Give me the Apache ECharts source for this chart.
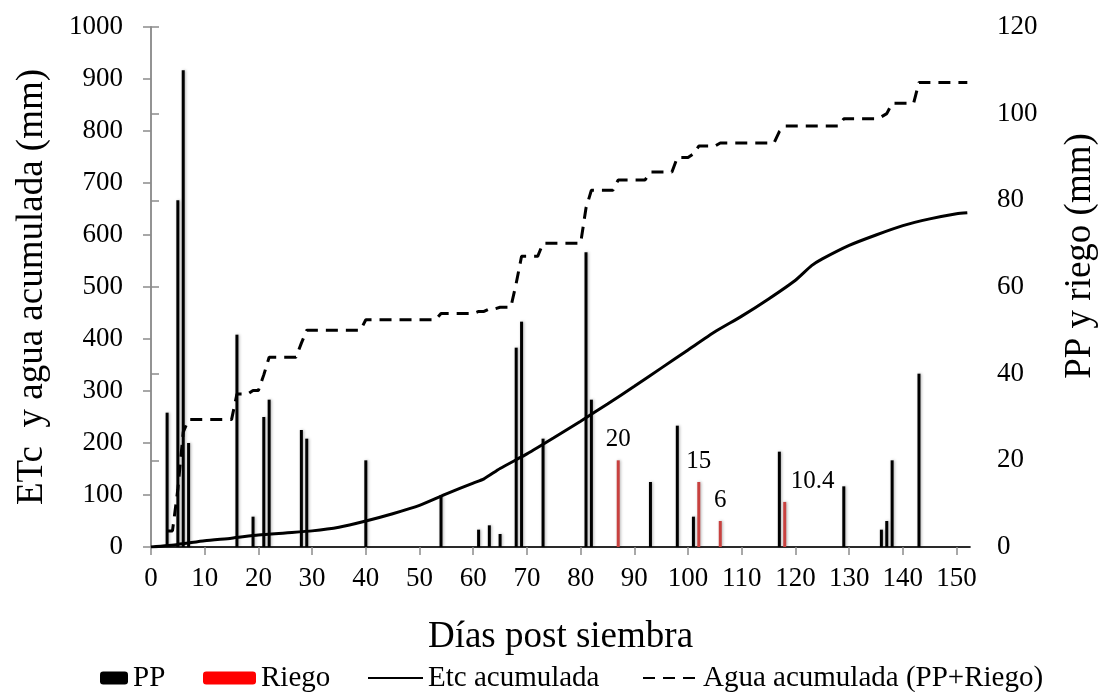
<!DOCTYPE html>
<html>
<head>
<meta charset="utf-8">
<title>ETc y agua acumulada</title>
<script src="https://cdn.jsdelivr.net/npm/echarts@6/dist/echarts.min.js"></script>
<style>
  html, body { margin: 0; padding: 0; background: #fff; }
  #chart { width: 1107px; height: 692px; }
</style>
</head>
<body>
<div id="chart"></div>
<script>
// Precipitación diaria (mm) por día post siembra
const ppDias    = [3, 5, 6, 7, 16, 19, 21, 22, 28, 29, 40, 54, 61, 63, 65, 68, 69, 73, 81, 82, 93, 98, 101, 117, 129, 136, 137, 138, 143];
const ppValores = [31, 80, 110, 24, 49, 7, 30, 34, 27, 25, 20, 12, 4, 5, 3, 46, 52, 25, 68, 34, 15, 28, 7, 22, 14, 4, 6, 20, 40];

// Riegos aplicados (mm)
const riegoDias    = [87, 102, 106, 118];
const riegoValores = [20, 15, 6, 10.4];

// ETc acumulada (mm)
const etcDias    = [0, 5, 10, 15, 20, 25, 30, 35, 40, 45, 50, 55, 60, 62, 65, 70, 75, 80, 85, 90, 95, 100, 105, 110, 115, 120, 123, 125, 130, 135, 140, 145, 150, 152];
const etcValores = [0, 5, 12, 17, 23, 27, 31, 38, 50, 64, 80, 102, 123, 131, 151, 179, 210, 242, 275, 309, 344, 379, 414, 444, 477, 513, 541, 554, 580, 600, 618, 631, 641, 643];

// Agua acumulada (PP + riego, mm) tras cada evento
const aguaDias    = [3, 5, 6, 7, 16, 19, 21, 22, 28, 29, 40, 54, 61, 63, 65, 68, 69, 73, 81, 82, 87, 93, 98, 101, 102, 106, 117, 118, 129, 136, 137, 138, 143];
const aguaValores = [31, 111, 221, 245, 294, 301, 331, 365, 392, 417, 437, 449, 453, 458, 461, 507, 559, 584, 652, 686, 706, 721, 749, 756, 771, 777, 799, 809.4, 823.4, 827.4, 833.4, 853.4, 893.4];
const ultimoDia = 152;

// Etiquetas del eje X
const xTicks = [0, 10, 20, 30, 40, 50, 60, 70, 80, 90, 100, 110, 120, 130, 140, 150];

const serif = 'Liberation Serif';

const ppData = ppDias.map((d, i) => [d, ppValores[i]]);
const etcData = etcDias.map((d, i) => [d, etcValores[i]]);

// El riego del día 118 lleva su etiqueta a la derecha
const riegoLabelShift = { 118: [28, 0] };
const riegoData = riegoDias.map((d, i) => {
  const item = { value: [d, riegoValores[i]] };
  if (riegoLabelShift[d]) item.label = { offset: riegoLabelShift[d] };
  return item;
});

// Escalones de la curva de agua: se mantiene el total hasta el día anterior a cada evento
const aguaData = [];
aguaDias.forEach((d, i) => {
  if (i > 0) {
    const prevDia = aguaDias[i - 1];
    if (d - 1 > prevDia) aguaData.push([d - 1, aguaValores[i - 1]]);
  }
  aguaData.push([d, aguaValores[i]]);
});
aguaData.push([ultimoDia, aguaValores[aguaValores.length - 1]]);

const axisGray = '#8c8c8c';
const barShadow = { shadowBlur: 3, shadowColor: 'rgba(0,0,0,0.3)', shadowOffsetX: 1 };
const plainNumber = v => String(v);

const chart = echarts.init(document.getElementById('chart'), null, { renderer: 'canvas' });

const legendBase = {
  orient: 'horizontal',
  top: 661,
  padding: 0,
  itemHeight: 13,
  selectedMode: false,
  textStyle: { fontFamily: serif, fontSize: 29, color: '#000', lineHeight: 34 }
};
// Las líneas de la leyenda se dibujan sin marcador
const noMarker = { color: 'rgba(0,0,0,0)', borderWidth: 0, opacity: 0 };

chart.setOption({
  animation: false,
  backgroundColor: '#fff',
  grid: { left: 151, right: 129, top: 27, bottom: 145, containLabel: false },
  legend: [
    Object.assign({}, legendBase, { left: 100, itemWidth: 28, data: ['PP'] }),
    Object.assign({}, legendBase, { left: 203, itemWidth: 53, data: [{ name: 'Riego', itemStyle: { color: '#ff0000' } }] }),
    Object.assign({}, legendBase, { left: 367, itemWidth: 55, data: [{ name: 'Etc acumulada', itemStyle: noMarker }] }),
    Object.assign({}, legendBase, { left: 642, itemWidth: 55, data: [{ name: 'Agua acumulada (PP+Riego)', itemStyle: noMarker }] })
  ],
  xAxis: [
    {
      type: 'value',
      min: 0,
      max: 152.5,
      interval: 10,
      name: 'Días post siembra',
      nameLocation: 'middle',
      nameGap: 72,
      nameTextStyle: { fontFamily: serif, fontSize: 37, color: '#000' },
      axisLine: { show: true, lineStyle: { color: axisGray, width: 1.5 } },
      axisTick: { show: true, length: 8, lineStyle: { color: axisGray, width: 1.5 }, customValues: xTicks },
      axisLabel: { fontFamily: serif, fontSize: 27, color: '#000', margin: 18, customValues: xTicks, formatter: plainNumber },
      splitLine: { show: false }
    },
    {
      type: 'value',
      position: 'top',
      min: 0,
      max: 152.5,
      axisLine: { show: true, lineStyle: { color: '#000', width: 1.5 } },
      axisTick: { show: false },
      axisLabel: { show: false },
      splitLine: { show: false }
    }
  ],
  yAxis: [
    {
      type: 'value',
      position: 'left',
      min: 0,
      max: 1000,
      interval: 100,
      name: 'ETc  y agua acumulada (mm)',
      nameLocation: 'middle',
      nameRotate: 90,
      nameGap: 100,
      nameTextStyle: { fontFamily: serif, fontSize: 37, color: '#000' },
      axisLine: { show: true, lineStyle: { color: axisGray, width: 1.5 } },
      axisTick: { show: true, length: 8, lineStyle: { color: axisGray, width: 1.5 } },
      axisLabel: { fontFamily: serif, fontSize: 27, color: '#000', margin: 28, formatter: plainNumber },
      splitLine: { show: false }
    },
    {
      type: 'value',
      position: 'right',
      min: 0,
      max: 120,
      interval: 20,
      name: 'PP y riego (mm)',
      nameLocation: 'middle',
      nameRotate: 90,
      nameGap: 92,
      nameTextStyle: { fontFamily: serif, fontSize: 37, color: '#000', padding: [0, 0, 0, 62] },
      axisLine: { show: true, lineStyle: { color: axisGray, width: 1.5 } },
      axisTick: { show: true, length: 8, lineStyle: { color: axisGray, width: 1.5 } },
      axisLabel: { fontFamily: serif, fontSize: 27, color: '#000', margin: 27, formatter: plainNumber },
      splitLine: { show: false }
    }
  ],
  series: [
    {
      name: 'PP',
      type: 'bar',
      xAxisIndex: 0,
      yAxisIndex: 1,
      data: ppData,
      barWidth: 3,
      barGap: '-100%',
      itemStyle: Object.assign({ color: '#000' }, barShadow),
      z: 2
    },
    {
      name: 'Riego',
      type: 'bar',
      xAxisIndex: 0,
      yAxisIndex: 1,
      data: riegoData,
      barWidth: 3,
      barGap: '-100%',
      itemStyle: Object.assign({ color: '#c8413f' }, barShadow),
      label: {
        show: true,
        position: 'top',
        distance: 8,
        fontFamily: serif,
        fontSize: 25,
        color: '#000',
        formatter: p => String(p.value[1])
      },
      z: 2
    },
    {
      name: 'Etc acumulada',
      type: 'line',
      xAxisIndex: 0,
      yAxisIndex: 0,
      data: etcData,
      symbol: 'none',
      smooth: 0.2,
      lineStyle: { color: '#000', width: 3 },
      itemStyle: { color: '#000' },
      z: 3
    },
    {
      name: 'Agua acumulada (PP+Riego)',
      type: 'line',
      xAxisIndex: 0,
      yAxisIndex: 0,
      data: aguaData,
      symbol: 'none',
      lineStyle: { color: '#000', width: 3, type: [12, 8] },
      itemStyle: { color: '#000' },
      z: 3
    }
  ]
});
</script>
</body>
</html>
